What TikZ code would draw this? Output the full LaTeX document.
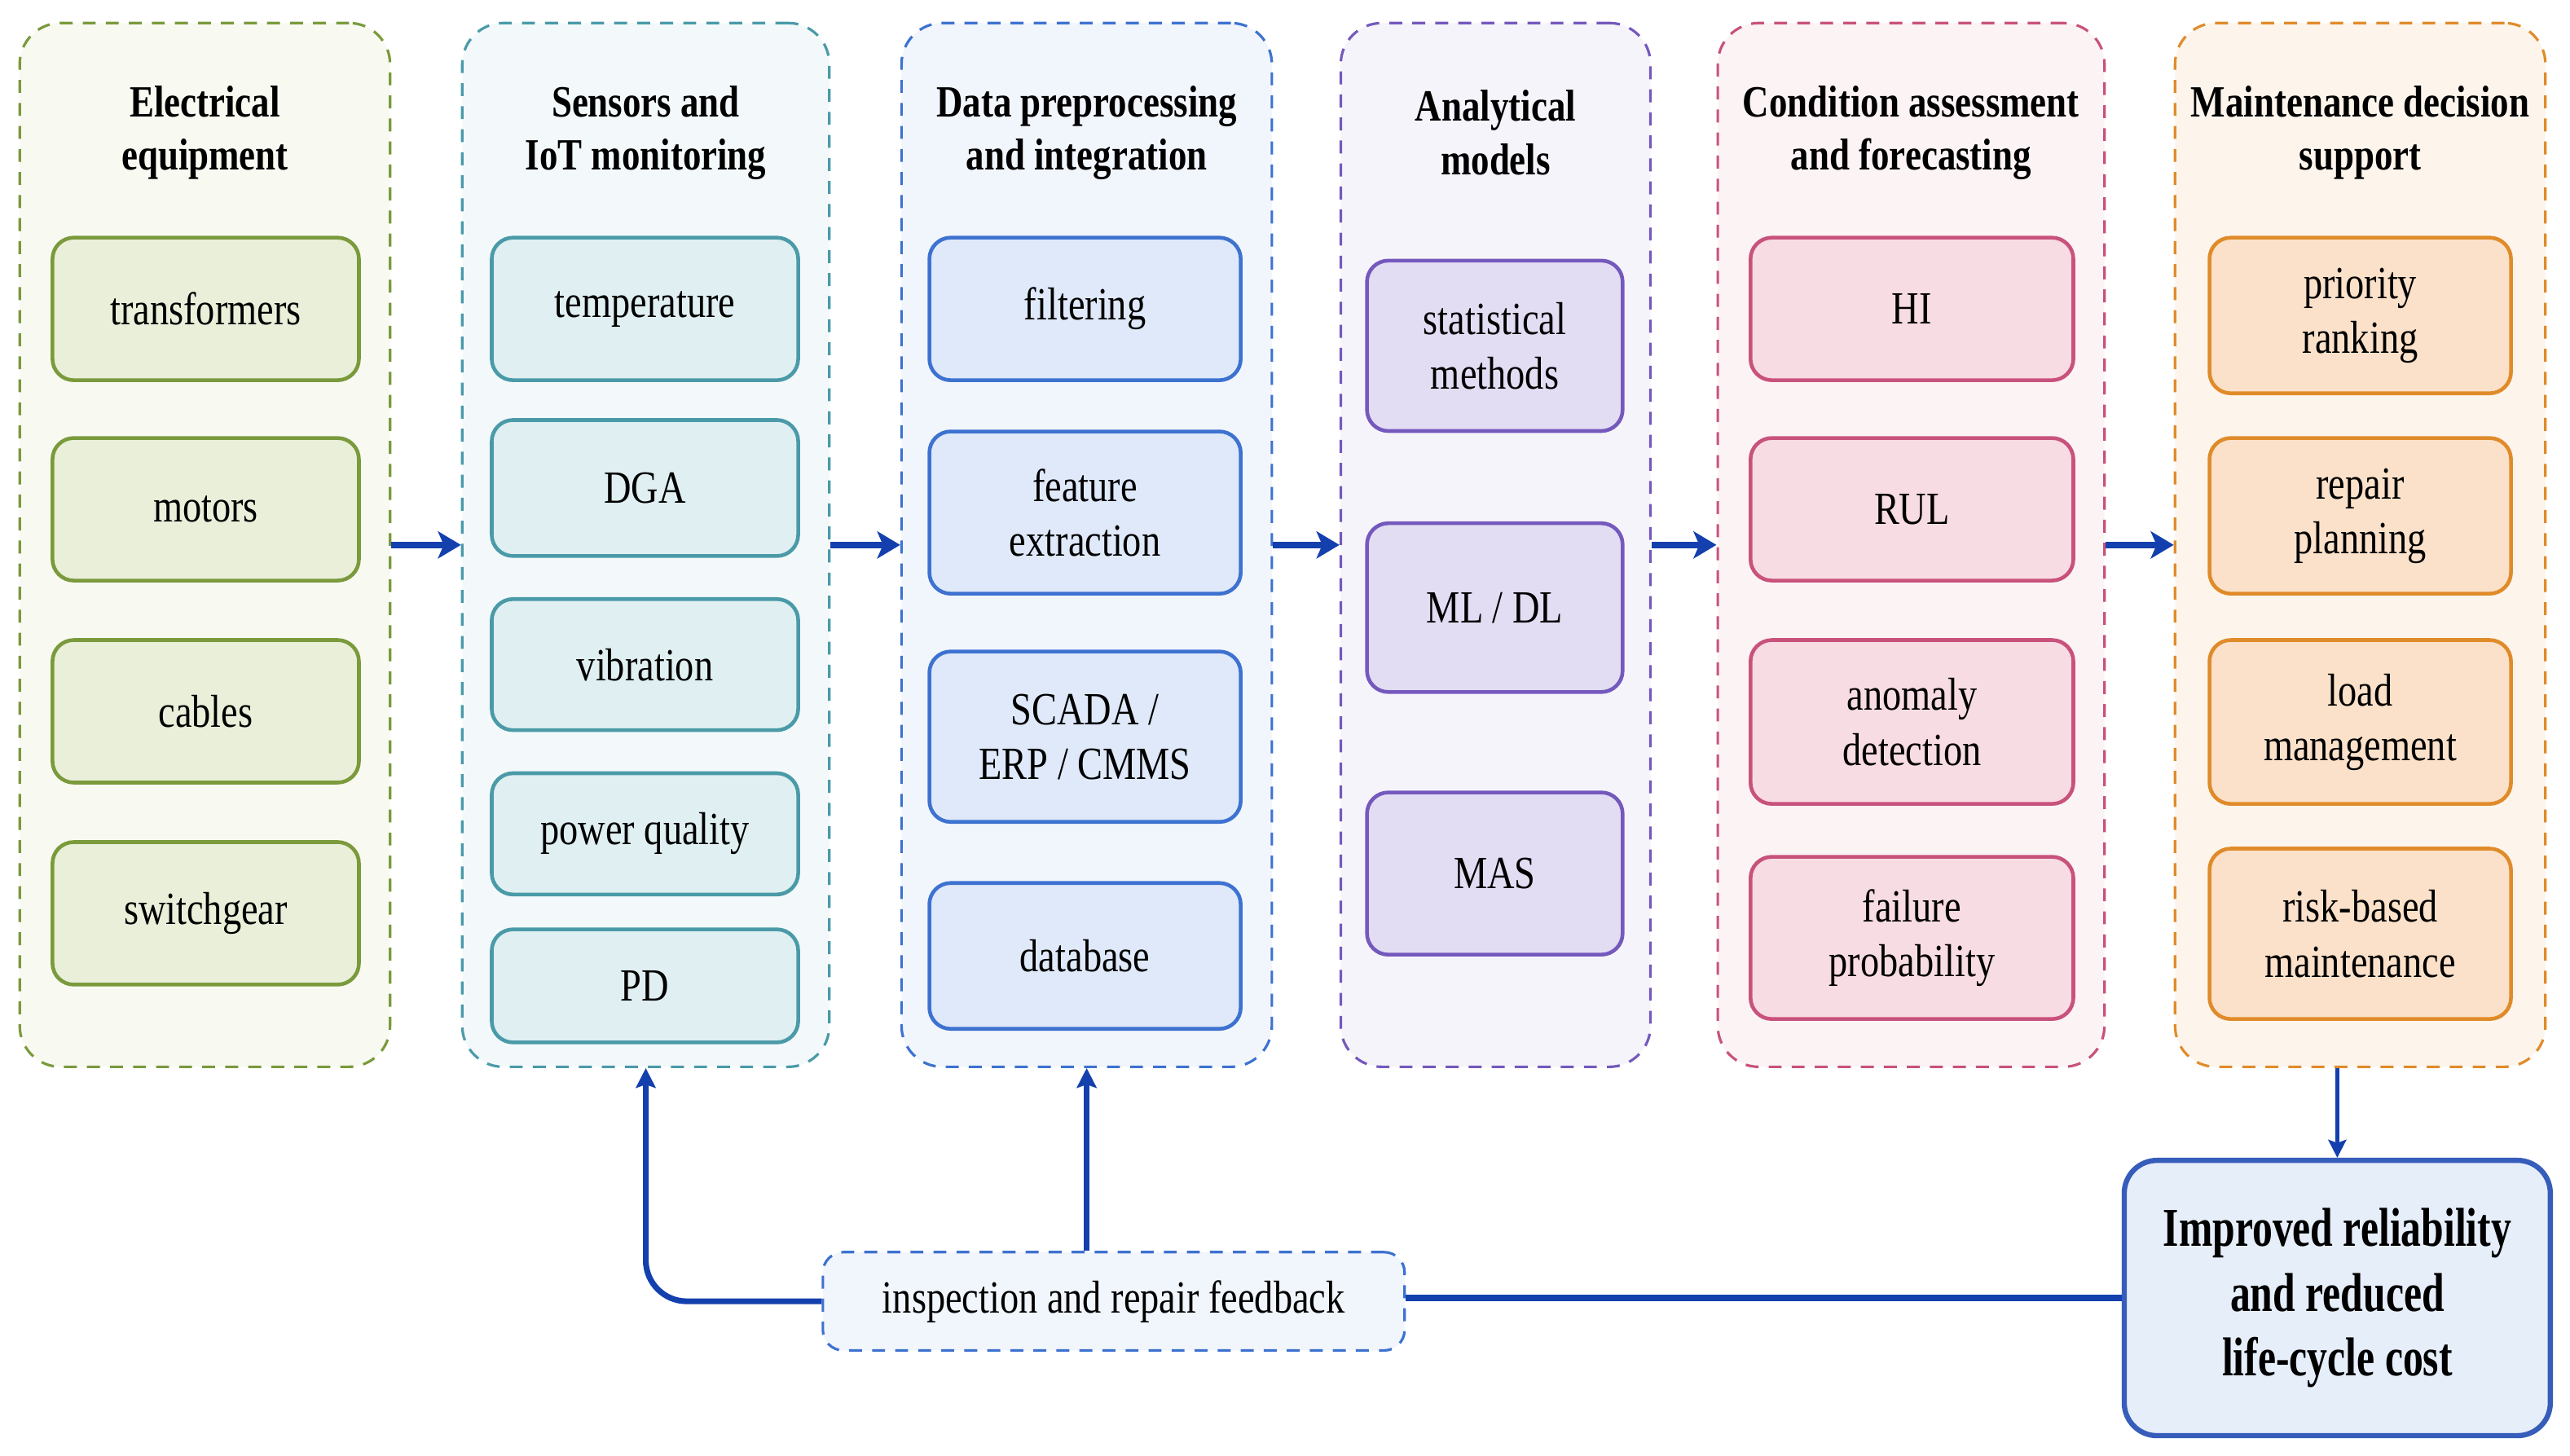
\documentclass[tikz,border=0pt]{standalone}
\usepackage{fontspec}
\setmainfont[FakeStretch=0.82]{Liberation Serif}
\newfontfamily\goalfont[FakeStretch=0.74]{Liberation Serif}
\usepackage{xcolor}
\usepackage{tikz}
\usetikzlibrary{arrows.meta,positioning}

\definecolor{grn}{HTML}{7A9A3C}
\definecolor{grnfill}{HTML}{E9EFD9}
\definecolor{grnbg}{HTML}{F8FAF2}
\definecolor{tea}{HTML}{4A9AA8}
\definecolor{teafill}{HTML}{E0EFF1}
\definecolor{teabg}{HTML}{F3F9FA}
\definecolor{blu}{HTML}{3D72D0}
\definecolor{blufill}{HTML}{DFE9F9}
\definecolor{blubg}{HTML}{F1F5FC}
\definecolor{pur}{HTML}{7459BD}
\definecolor{purfill}{HTML}{E3DDF3}
\definecolor{purbg}{HTML}{F6F4FB}
\definecolor{pnk}{HTML}{C8527C}
\definecolor{pnkfill}{HTML}{F8DCE3}
\definecolor{pnkbg}{HTML}{FCF3F5}
\definecolor{org}{HTML}{E08B2A}
\definecolor{orgfill}{HTML}{FBE1C9}
\definecolor{orgbg}{HTML}{FDF5EC}
\definecolor{flow}{HTML}{1440AE}
\definecolor{goalfill}{HTML}{E6EEFA}

\begin{document}
\begin{tikzpicture}[
x=0.02cm,y=-0.02cm,
stage/.style={draw=#1,fill=#1bg,dash pattern=on 4.5pt off 3.5pt,line width=0.9pt,rounded corners=0.5cm,minimum height=12.74cm},
item/.style={draw=#1,fill=#1fill,line width=1.3pt,rounded corners=0.26cm,align=center,font=\fontsize{16}{19}\selectfont},
hdr/.style={align=center,font=\bfseries\fontsize{15.5}{18.6}\selectfont},
arrow/.style={-{Stealth[length=2.8mm,width=3.3mm,inset=0.7mm]},line width=2.4pt,draw=flow},
fback/.style={-{Stealth[length=2.4mm,width=2.4mm,inset=0.4mm]},line width=2pt,draw=flow},
goalbox/.style={draw=flow!85,fill=goalfill,line width=1.8pt,rounded corners=0.4cm,minimum width=5.2cm,minimum height=3.36cm,align=center,font=\goalfont\bfseries\fontsize{19}{22.5}\selectfont},
fbbox/.style={draw=blu,fill=blubg,dash pattern=on 4.5pt off 3.5pt,line width=0.9pt,rounded corners=0.25cm,minimum width=7.1cm,minimum height=1.2cm,font=\fontsize{16}{19}\selectfont}
]
\useasboundingbox (0,0) rectangle (1568,888);

% stages
\node[stage=grn,minimum width=4.52cm] (equip) at (125,332.5) {};
\node[stage=tea,minimum width=4.48cm] (sensors) at (394,332.5) {};
\node[stage=blu,minimum width=4.52cm] (prep) at (663,332.5) {};
\node[stage=pur,minimum width=3.78cm] (models) at (912.5,332.5) {};
\node[stage=pnk,minimum width=4.72cm] (assess) at (1166,332.5) {};
\node[stage=org,minimum width=4.52cm] (decision) at (1440,332.5) {};

\node[hdr] (h1) at (equip.north |- 0,81) {Electrical\\equipment};
\node[hdr] (h2) at (sensors.north |- 0,81) {Sensors and\\IoT monitoring};
\node[hdr] (h3) at (prep.north |- 0,81) {Data preprocessing\\and integration};
\node[hdr] (h4) at (models.north |- 0,81) {Analytical\\models};
\node[hdr] (h5) at (assess.north |- 0,81) {Condition assessment\\and forecasting};
\node[hdr] (h6) at (decision.north |- 0,81) {Maintenance decision\\support};

% electrical equipment
\node[item=grn,minimum width=3.74cm,minimum height=1.74cm] (trafo) at (125.5,188.5) {transformers};
\node[item=grn,minimum width=3.74cm,minimum height=1.74cm,below=0.66cm of trafo] (motor) {motors};
\node[item=grn,minimum width=3.74cm,minimum height=1.74cm,below=0.68cm of motor] (cable) {cables};
\node[item=grn,minimum width=3.74cm,minimum height=1.74cm,below=0.68cm of cable] (swgr) {switchgear};

% sensors
\node[item=tea,minimum width=3.74cm,minimum height=1.74cm] (temp) at (393.5,188.5) {temperature};
\node[item=tea,minimum width=3.74cm,minimum height=1.66cm,below=0.44cm of temp] (dga) {DGA};
\node[item=tea,minimum width=3.74cm,minimum height=1.6cm,below=0.48cm of dga] (vib) {vibration};
\node[item=tea,minimum width=3.74cm,minimum height=1.48cm,below=0.48cm of vib] (pq) {power quality};
\node[item=tea,minimum width=3.74cm,minimum height=1.38cm,below=0.38cm of pq] (pd) {PD};

% preprocessing
\node[item=blu,minimum width=3.8cm,minimum height=1.74cm] (filt) at (662,188.5) {filtering};
\node[item=blu,minimum width=3.8cm,minimum height=1.98cm,below=0.58cm of filt] (feat) {feature\\extraction};
\node[item=blu,minimum width=3.8cm,minimum height=2.08cm,below=0.66cm of feat] (scada) {SCADA /\\ERP / CMMS};
\node[item=blu,minimum width=3.8cm,minimum height=1.78cm,below=0.7cm of scada] (db) {database};

% models
\node[item=pur,minimum width=3.12cm,minimum height=2.08cm] (stat) at (912,211) {statistical\\methods};
\node[item=pur,minimum width=3.12cm,minimum height=2.06cm,below=1.08cm of stat] (ml) {ML / DL};
\node[item=pur,minimum width=3.12cm,minimum height=1.98cm,below=1.18cm of ml] (mas) {MAS};

% assessment
\node[item=pnk,minimum width=3.94cm,minimum height=1.74cm] (hi) at (1166.5,188.5) {HI};
\node[item=pnk,minimum width=3.94cm,minimum height=1.74cm,below=0.66cm of hi] (rul) {RUL};
\node[item=pnk,minimum width=3.94cm,minimum height=2cm,below=0.68cm of rul] (anom) {anomaly\\detection};
\node[item=pnk,minimum width=3.94cm,minimum height=1.98cm,below=0.6cm of anom] (fail) {failure\\probability};

% decision support
\node[item=org,minimum width=3.68cm,minimum height=1.9cm] (prio) at (1440,192.5) {priority\\ranking};
\node[item=org,minimum width=3.68cm,minimum height=1.9cm,below=0.5cm of prio] (repair) {repair\\planning};
\node[item=org,minimum width=3.68cm,minimum height=2cm,below=0.52cm of repair] (load) {load\\management};
\node[item=org,minimum width=3.68cm,minimum height=2.08cm,below=0.5cm of load] (risk) {risk-based\\maintenance};

% outcome and feedback
\node[goalbox] (goal) at (1426,792) {Improved reliability\\and reduced\\life-cycle cost};
\node[fbbox] (fb) at (679.5,794) {inspection and repair feedback};

\draw[arrow] (equip) -- (sensors);
\draw[arrow] (sensors) -- (prep);
\draw[arrow] (prep) -- (models);
\draw[arrow] (models) -- (assess);
\draw[arrow] (assess) -- (decision);
\draw[-{Stealth[length=2.2mm,width=2.2mm,inset=0.4mm]},line width=1.3pt,draw=flow] (goal.north |- decision.south) -- (goal.north);
\draw[line width=2.2pt,draw=flow] (goal.west) -- (goal.west -| fb.east);
\draw[fback,rounded corners=0.5cm] (fb.west) -| (sensors.south);
\draw[fback] (prep.south |- fb.north) -- (prep.south);
\end{tikzpicture}
\end{document}
